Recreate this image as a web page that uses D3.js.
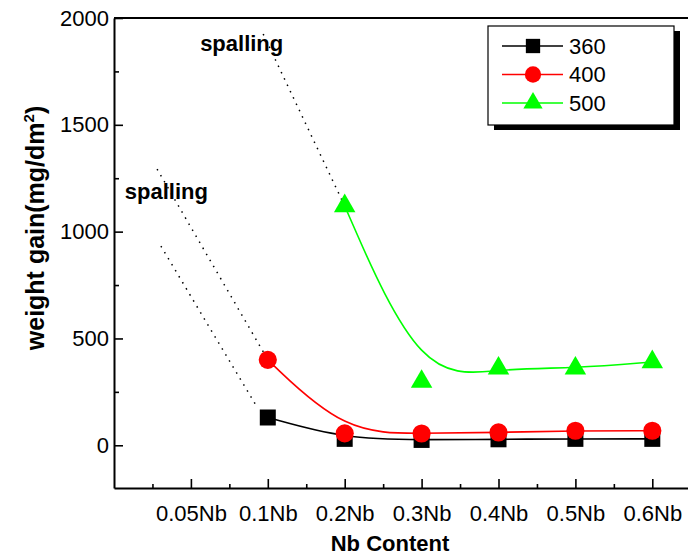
<!DOCTYPE html>
<html>
<head>
<meta charset="utf-8">
<script src="https://cdn.jsdelivr.net/npm/d3@7.9.0/dist/d3.min.js"></script>
<style>
  body { margin: 0; background: #fff; }
  svg { display: block; font-family: Arial, "Liberation Sans", sans-serif; }
</style>
</head>
<body>
<div id="chart"></div>
<script>
// Data
const categories = ["0.05Nb", "0.1Nb", "0.2Nb", "0.3Nb", "0.4Nb", "0.5Nb", "0.6Nb"];
const s360 = [null, 130, 30, 25, 28, 30, 30];
const s400 = [null, 400, 56, 55, 60, 68, 68];
const s500 = [null, null, 1120, 298, 360, 360, 390];
const seriesNames = ["360", "400", "500"];
const yTicks = [0, 500, 1000, 1500, 2000];
const yMinor = [250, 750, 1250, 1750];

// "spalling" notes, in axis units (x = category position, 1 = first category)
const noteTexts = [
  { text: "spalling", x: 1.12, y: 1845 },
  { text: "spalling", x: 0.14, y: 1152 }
];
const noteLines = [
  { x1: 1.94, y1: 1925, x2: 3.0, y2: 1120 },
  { x1: 0.56, y1: 1293, x2: 1.99, y2: 407 },
  { x1: 0.61, y1: 932, x2: 1.87, y2: 173 }
];

const width = 688;
const height = 559;
const margin = { top: 18, left: 114, bottom: 71 };

const svg = d3.select("#chart")
  .append("svg")
  .attr("width", width)
  .attr("height", height);

const x = d3.scaleLinear()
  .domain([0, 8])
  .range([margin.left, margin.left + 8 * 76.9]);

const y = d3.scaleLinear()
  .domain([-200, 2000])
  .range([height - margin.bottom, margin.top]);

const bottomY = height - margin.bottom;

// frame (right side falls outside the picture)
svg.append("line")
  .attr("x1", x(0)).attr("x2", x(8))
  .attr("y1", y(2000)).attr("y2", y(2000))
  .attr("stroke", "#000").attr("stroke-width", 2);

// axes
const xAxis = d3.axisBottom(x)
  .tickValues(d3.range(1, 8))
  .tickSize(-9)
  .tickSizeOuter(0)
  .tickPadding(17)
  .tickFormat(i => categories[i - 1]);

const gx = svg.append("g")
  .attr("transform", `translate(0,${bottomY})`)
  .call(xAxis);

svg.append("g")
  .attr("transform", `translate(0,${bottomY})`)
  .call(d3.axisBottom(x).tickValues(d3.range(0.5, 8, 1)).tickSize(-4).tickSizeOuter(0).tickFormat(""))
  .select(".domain").remove();

const gy = svg.append("g")
  .attr("transform", `translate(${margin.left},0)`)
  .call(d3.axisLeft(y).tickValues(yTicks).tickSize(-9).tickSizeOuter(0).tickPadding(5).tickFormat(d3.format("d")));

svg.append("g")
  .attr("transform", `translate(${margin.left},0)`)
  .call(d3.axisLeft(y).tickValues(yMinor).tickSize(-5).tickSizeOuter(0).tickFormat(""))
  .select(".domain").remove();

svg.selectAll(".domain").attr("stroke-width", 2);
svg.selectAll(".tick line").attr("stroke-width", 1.6);
[gx, gy].forEach(g => g.selectAll("text")
  .attr("fill", "#000")
  .style("font-size", "22px")
  .style("font-family", "Arial, 'Liberation Sans', sans-serif"));

// axis titles
svg.append("text")
  .attr("x", 390)
  .attr("y", 551)
  .attr("text-anchor", "middle")
  .style("font-size", "22px")
  .style("font-weight", "bold")
  .text("Nb Content");

const yTitle = svg.append("text")
  .attr("transform", "translate(44,228) rotate(-90)")
  .attr("text-anchor", "middle")
  .style("font-size", "25px")
  .style("font-weight", "bold");
yTitle.append("tspan").text("weight gain(mg/dm");
yTitle.append("tspan").attr("dy", -10).style("font-size", "15px").text("2");
yTitle.append("tspan").attr("dy", 10).text(")");

// spalling notes
svg.selectAll(".note-line")
  .data(noteLines)
  .enter()
  .append("line")
  .attr("class", "note-line")
  .attr("x1", d => x(d.x1)).attr("y1", d => y(d.y1))
  .attr("x2", d => x(d.x2)).attr("y2", d => y(d.y2))
  .attr("stroke", "#000")
  .attr("stroke-width", 1.5)
  .attr("stroke-dasharray", "1.5,5.5");

svg.selectAll(".note-text")
  .data(noteTexts)
  .enter()
  .append("text")
  .attr("class", "note-text")
  .attr("x", d => x(d.x))
  .attr("y", d => y(d.y))
  .style("font-size", "22px")
  .style("font-weight", "bold")
  .text(d => d.text);

// series
const seriesList = [
  { name: seriesNames[0], values: s360, color: "#000000", symbol: d3.symbolSquare, size: 256 },
  { name: seriesNames[1], values: s400, color: "#ff0000", symbol: d3.symbolCircle, size: 260 },
  { name: seriesNames[2], values: s500, color: "#00ff00", symbol: d3.symbolTriangle, size: 200 }
];

const line = d3.line()
  .x(d => x(d.i))
  .y(d => y(d.v))
  .curve(d3.curveBasis);

seriesList.forEach(s => {
  const pts = s.values
    .map((v, k) => ({ i: k + 1, v: v }))
    .filter(d => d.v !== null);

  svg.append("path")
    .datum(pts)
    .attr("fill", "none")
    .attr("stroke", s.color)
    .attr("stroke-width", 1.6)
    .attr("d", line);

  svg.selectAll(".pt-" + s.name)
    .data(pts)
    .enter()
    .append("path")
    .attr("class", "pt-" + s.name)
    .attr("transform", d => `translate(${x(d.i)},${y(d.v)})`)
    .attr("d", d3.symbol().type(s.symbol).size(s.size))
    .attr("fill", s.color);
});

// legend
const legend = svg.append("g");
legend.append("rect")
  .attr("x", 494).attr("y", 31)
  .attr("width", 186).attr("height", 99)
  .attr("fill", "#000");
legend.append("rect")
  .attr("x", 488).attr("y", 26)
  .attr("width", 186).attr("height", 99)
  .attr("fill", "#fff")
  .attr("stroke", "#000")
  .attr("stroke-width", 1.2);

seriesList.forEach((s, k) => {
  const ly = 46 + k * 28.5;
  legend.append("line")
    .attr("x1", 502).attr("x2", 563)
    .attr("y1", ly).attr("y2", ly)
    .attr("stroke", s.color)
    .attr("stroke-width", 1.4);
  legend.append("path")
    .attr("transform", `translate(533,${ly})`)
    .attr("d", d3.symbol().type(s.symbol).size(s.size * 0.8))
    .attr("fill", s.color);
  legend.append("text")
    .attr("x", 569)
    .attr("y", ly)
    .attr("dy", "0.36em")
    .style("font-size", "22px")
    .text(s.name);
});
</script>
</body>
</html>
